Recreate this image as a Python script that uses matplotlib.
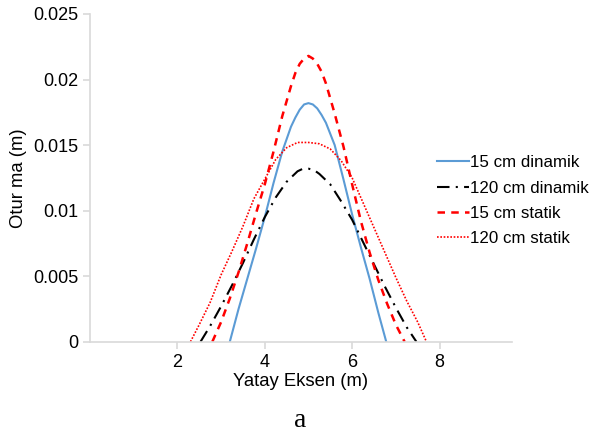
import matplotlib.pyplot as plt
from matplotlib.ticker import FuncFormatter

plt.rcParams['font.family'] = ['Liberation Sans', 'DejaVu Sans']

# 15 cm dinamik
x_d15 = [3.2, 3.4, 3.6, 3.8, 4.0, 4.2, 4.4, 4.6, 4.7, 4.8, 4.9, 5.0, 5.1, 5.2, 5.3, 5.4,
         5.6, 5.8, 6.0, 6.2, 6.4, 6.6, 6.78]
y_d15 = [0, 0.0025, 0.0048, 0.0071, 0.0095, 0.0121, 0.0145, 0.0164, 0.0171, 0.0177, 0.0181,
         0.0182, 0.0181, 0.0178, 0.0173, 0.0167, 0.0150, 0.0124, 0.0097, 0.0072, 0.0048,
         0.0022, 0]

# 120 cm dinamik
x_d120 = [2.53, 2.75, 3.0, 3.25, 3.5, 3.75, 4.0, 4.25, 4.5, 4.75, 4.875, 5.0, 5.125, 5.25,
          5.5, 5.75, 6.0, 6.25, 6.5, 6.75, 7.0, 7.25, 7.47]
y_d120 = [0, 0.0012, 0.0027, 0.0043, 0.0060, 0.0078, 0.0095, 0.0110, 0.0122, 0.0130, 0.0132,
          0.0132, 0.0131, 0.0128, 0.0120, 0.0107, 0.0093, 0.0076, 0.0059, 0.0042, 0.0026,
          0.0011, 0]

# 15 cm statik
x_s15 = [2.8, 3.0, 3.2, 3.4, 3.6, 3.8, 4.0, 4.2, 4.4, 4.6, 4.7, 4.8, 4.9, 5.0, 5.1, 5.2,
         5.3, 5.4, 5.6, 5.8, 6.0, 6.2, 6.4, 6.6, 6.8, 7.0, 7.2]
y_s15 = [0, 0.0015, 0.0033, 0.0053, 0.0075, 0.0098, 0.0120, 0.0145, 0.0172, 0.0195, 0.0205,
         0.0212, 0.0216, 0.0218, 0.0216, 0.0212, 0.0206, 0.0197, 0.0174, 0.0149, 0.0120,
         0.0092, 0.0068, 0.0047, 0.0029, 0.0013, 0]

# 120 cm statik
x_s120 = [2.3, 2.5, 2.75, 3.0, 3.25, 3.5, 3.75, 4.0, 4.25, 4.5, 4.75, 5.0, 5.25, 5.5, 5.75,
          6.0, 6.25, 6.5, 6.75, 7.0, 7.25, 7.5, 7.7]
y_s120 = [0, 0.0013, 0.0030, 0.0051, 0.0069, 0.0088, 0.0109, 0.0124, 0.0139, 0.0148, 0.0152,
          0.0152, 0.0151, 0.0147, 0.0138, 0.0125, 0.0106, 0.0087, 0.0068, 0.0049, 0.0031,
          0.0015, 0]

x_ticks = [2, 4, 6, 8]
y_ticks = [0, 0.005, 0.01, 0.015, 0.02, 0.025]

fig = plt.figure(figsize=(5.92, 4.37), dpi=100)
ax = fig.add_axes([0.152, 0.218, 0.713, 0.750])

ax.plot(x_d15, y_d15, color='#5B9BD5', lw=1.5, label='15 cm dinamik')
ax.plot(x_d120, y_d120, color='black', lw=1.5, dashes=(6, 3, 1, 3), label='120 cm dinamik')
ax.plot(x_s15, y_s15, color='#FF0000', lw=1.8, dashes=(3, 2.5), label='15 cm statik')
ax.plot(x_s120, y_s120, color='#FF0000', lw=1.2, ls=(0, (1, 1)), label='120 cm statik')

ax.set_xlim(0, 9.66)
ax.set_ylim(0, 0.025)
ax.set_xticks(x_ticks)
ax.set_yticks(y_ticks)
ax.yaxis.set_major_formatter(FuncFormatter(lambda v, p: '%g' % round(v, 4)))

for s in ['top', 'right']:
    ax.spines[s].set_visible(False)
for s in ['left', 'bottom']:
    ax.spines[s].set_color('#D9D9D9')
    ax.spines[s].set_linewidth(1.2)
ax.tick_params(colors='#D9D9D9', labelcolor='black', labelsize=13, length=5, width=1.2)

ax.set_xlabel('Yatay Eksen (m)', fontsize=13.3, labelpad=2)
ax.set_ylabel('Otur ma (m)', fontsize=13.3, labelpad=4)

fig.legend(loc='upper left', bbox_to_anchor=(0.726, 0.66), frameon=False, fontsize=12.2,
           handlelength=1.9, handletextpad=0.1, labelspacing=0.6, borderaxespad=0)

fig.text(0.507, 0.022, 'a', family='Liberation Serif', fontsize=20, ha='center')

fig.savefig('out.png', dpi=100)
